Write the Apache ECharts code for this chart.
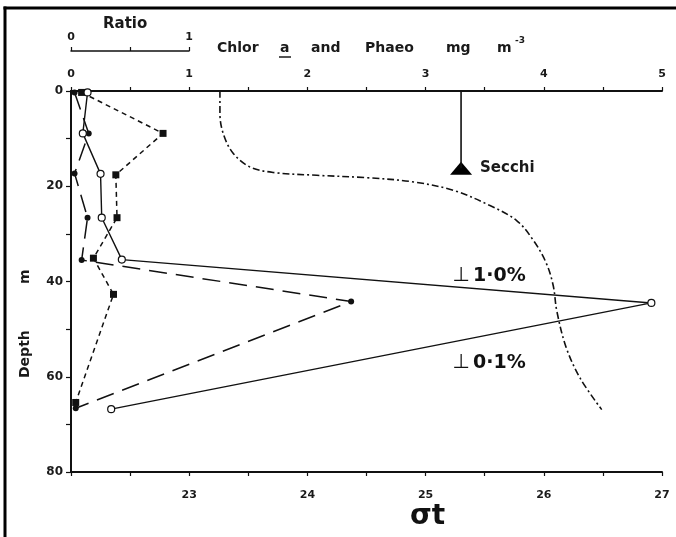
<!DOCTYPE html>
<html><head><meta charset="utf-8">
<script src="https://cdn.jsdelivr.net/npm/echarts@6/dist/echarts.min.js"></script>
<style>html,body{margin:0;padding:0;background:#fff}#c{width:676px;height:537px}</style>
</head><body><div id="c"></div>
<script>
// Chlorophyll a (open circles, solid line) - mg m-3, top axis
const chlDepth = [0.3, 8.9, 17.4, 26.6, 35.4, 44.5, 66.8];
const chlValue = [0.14, 0.10, 0.25, 0.26, 0.43, 4.91, 0.34];
// Phaeopigment (filled circles, long dashes) - mg m-3, top axis
const phaeoDepth = [0.3, 8.9, 17.3, 26.6, 35.5, 44.2, 66.6];
const phaeoValue = [0.03, 0.15, 0.03, 0.14, 0.09, 2.37, 0.04];
// Ratio (filled squares, short dashes) - ratio axis
const ratioDepth = [0.3, 8.9, 17.6, 26.6, 35.1, 42.7, 65.4];
const ratioValue = [0.09, 0.78, 0.38, 0.39, 0.19, 0.36, 0.04];
// Sigma-t profile (dash-dot) - bottom axis
const sigmaDepth = [0, 4.7, 9.1, 13.0, 15.9, 17.1, 17.7, 18.2, 19.1, 20.9, 24.0, 27.2, 31.3, 36.1, 40.9, 46.2, 53.9, 60.4, 66.9];
const sigmaValue = [23.26, 23.26, 23.29, 23.37, 23.51, 23.71, 24.08, 24.50, 24.90, 25.24, 25.54, 25.77, 25.91, 26.02, 26.08, 26.11, 26.19, 26.31, 26.49];
// Secchi depth (plotted at chlor-axis position 3.3)
const secchiX = [3.3];
const secchiDepth = [16.2];
// Light levels
const lightLabels = ['1·0%', '0·1%'];
const lightDepth = [41.0, 59.3];
const lightX = [3.23, 3.23];
// Tick labels
const chlTicks = [0, 1, 2, 3, 4, 5];
const sigmaTicks = [23, 24, 25, 26, 27];
const depthTicks = [0, 20, 40, 60, 80];
const ratioTicks = [0, 1];

const F = 'DejaVu Sans';
const INK = '#111';
const pair = (xs, ys) => xs.map((x, i) => [x, ys[i]]);
const chart = echarts.init(document.getElementById('c'), null, {renderer: 'canvas'});

const axisBase = {
  type: 'value',
  splitLine: {show: false},
  axisLine: {show: true, onZero: false, lineStyle: {color: INK, width: 2}},
  axisTick: {show: true, inside: false, length: 4, lineStyle: {color: INK, width: 1.2}},
};
const lbl = (extra) => Object.assign({color: '#1a1a1a', fontFamily: F, fontWeight: 'bold', fontSize: 11}, extra);

const option = {
  animation: false,
  backgroundColor: '#fff',
  grid: [
    {left: 71, right: 14, top: 91, bottom: 65},
    {left: 71, width: 118, top: 91, bottom: 65}
  ],
  xAxis: [
    Object.assign({}, axisBase, {gridIndex: 0, position: 'top', min: 0, max: 5, interval: 0.5,
      axisLabel: lbl({margin: 11, formatter: v => chlTicks.includes(v) ? String(v) : ''})}),
    Object.assign({}, axisBase, {gridIndex: 0, position: 'bottom', min: 22, max: 27, interval: 0.5,
      axisLabel: lbl({margin: 18, formatter: v => sigmaTicks.includes(v) ? String(v) : ''})}),
    Object.assign({}, axisBase, {gridIndex: 1, position: 'top', offset: 40, min: 0, max: 1, interval: 0.5,
      axisLine: {show: true, onZero: false, lineStyle: {color: INK, width: 1.5}},
      axisLabel: lbl({margin: 8, formatter: v => ratioTicks.includes(v) ? String(v) : ''})})
  ],
  yAxis: [
    Object.assign({}, axisBase, {gridIndex: 0, inverse: true, min: 0, max: 80, interval: 10,
      axisTick: {show: true, inside: false, length: 5, lineStyle: {color: INK, width: 1.2}},
      axisLabel: lbl({margin: 8, fontSize: 12, formatter: v => depthTicks.includes(v) ? String(v) : ''})}),
    {gridIndex: 1, type: 'value', inverse: true, min: 0, max: 80, show: false}
  ],
  graphic: [
    {type: 'line', shape: {x1: 5, y1: 6.5, x2: 5, y2: 537}, style: {stroke: '#000', lineWidth: 3}},
    {type: 'line', shape: {x1: 3.5, y1: 8, x2: 676, y2: 8}, style: {stroke: '#000', lineWidth: 3}},
    {type: 'text', left: 103, top: 17, style: {text: 'Ratio', font: 'bold 15px "DejaVu Sans"', fill: '#1a1a1a'}},
    {type: 'text', left: 217, top: 41, style: {text: 'Chlor', font: 'bold 14px "DejaVu Sans"', fill: '#1a1a1a'}},
    {type: 'text', left: 280, top: 41, style: {text: 'a', font: 'bold 14px "DejaVu Sans"', fill: '#1a1a1a'}},
    {type: 'line', shape: {x1: 279, y1: 57, x2: 291, y2: 57}, style: {stroke: '#1a1a1a', lineWidth: 1.5}},
    {type: 'text', left: 311, top: 41, style: {text: 'and', font: 'bold 14px "DejaVu Sans"', fill: '#1a1a1a'}},
    {type: 'text', left: 365, top: 41, style: {text: 'Phaeo', font: 'bold 14px "DejaVu Sans"', fill: '#1a1a1a'}},
    {type: 'text', left: 446, top: 41, style: {text: 'mg', font: 'bold 14px "DejaVu Sans"', fill: '#1a1a1a'}},
    {type: 'text', left: 497, top: 41, style: {text: 'm', font: 'bold 14px "DejaVu Sans"', fill: '#1a1a1a'}},
    {type: 'text', left: 515, top: 36, style: {text: '-3', font: 'bold 9px "DejaVu Sans"', fill: '#1a1a1a'}},
    {type: 'text', left: 410, top: 503, style: {text: 'σt', font: 'bold 28px "DejaVu Sans"', fill: '#111'}},
    {type: 'text', x: 18, y: 378, rotation: Math.PI / 2, style: {text: 'Depth', font: 'bold 14px "DejaVu Sans"', fill: '#1a1a1a'}},
    {type: 'text', x: 18, y: 284, rotation: Math.PI / 2, style: {text: 'm', font: 'bold 14px "DejaVu Sans"', fill: '#1a1a1a'}}
  ],
  series: [
    {
      name: 'σt', type: 'line', xAxisIndex: 1, yAxisIndex: 0,
      data: pair(sigmaValue, sigmaDepth), showSymbol: false, symbol: 'none', smooth: 0.35,
      lineStyle: {color: INK, width: 1.6, type: [7, 3, 2, 3]}
    },
    {
      name: 'Phaeo', type: 'line', xAxisIndex: 0, yAxisIndex: 0,
      data: pair(phaeoValue, phaeoDepth), symbol: 'circle', symbolSize: 6,
      itemStyle: {color: INK},
      lineStyle: {color: INK, width: 1.5, type: [18, 9]}
    },
    {
      name: 'Ratio', type: 'line', xAxisIndex: 2, yAxisIndex: 1,
      data: pair(ratioValue, ratioDepth), symbol: 'rect', symbolSize: 7,
      itemStyle: {color: INK}, clip: false,
      lineStyle: {color: INK, width: 1.5, type: [5, 4]}
    },
    {
      name: 'Chlor a', type: 'line', xAxisIndex: 0, yAxisIndex: 0,
      data: pair(chlValue, chlDepth), symbol: 'circle', symbolSize: 7,
      itemStyle: {color: '#fff', borderColor: INK, borderWidth: 1.2},
      lineStyle: {color: INK, width: 1.4}
    },
    {
      name: 'Secchi line', type: 'line', xAxisIndex: 0, yAxisIndex: 0,
      data: [[secchiX[0], 0], [secchiX[0], secchiDepth[0]]], symbol: 'none',
      lineStyle: {color: INK, width: 1.6}
    },
    {
      name: 'Secchi', type: 'scatter', xAxisIndex: 0, yAxisIndex: 0,
      data: pair(secchiX, secchiDepth), symbol: 'triangle', symbolSize: [22, 13],
      itemStyle: {color: '#000', opacity: 1},
      label: {show: true, position: 'right', distance: 8, formatter: 'Secchi',
        fontFamily: F, fontWeight: 'bold', fontSize: 15, color: '#1a1a1a'}
    },
    {
      name: 'Light', type: 'scatter', xAxisIndex: 0, yAxisIndex: 0,
      data: lightX.map((x, i) => [x, lightDepth[i], lightLabels[i]]),
      symbolSize: 1, itemStyle: {color: '#fff', opacity: 1},
      label: {show: true, position: [0, 0], align: 'left', verticalAlign: 'bottom',
        color: '#111', opacity: 1,
        formatter: p => '{a|⊥} {b|' + p.data[2] + '}',
        rich: {
          a: {fontFamily: F, fontSize: 20, color: '#111', opacity: 1},
          b: {fontFamily: F, fontSize: 19, fontWeight: 'bold', color: '#111', opacity: 1}
        }}
    }
  ]
};
chart.setOption(option);
</script>
</body></html>
